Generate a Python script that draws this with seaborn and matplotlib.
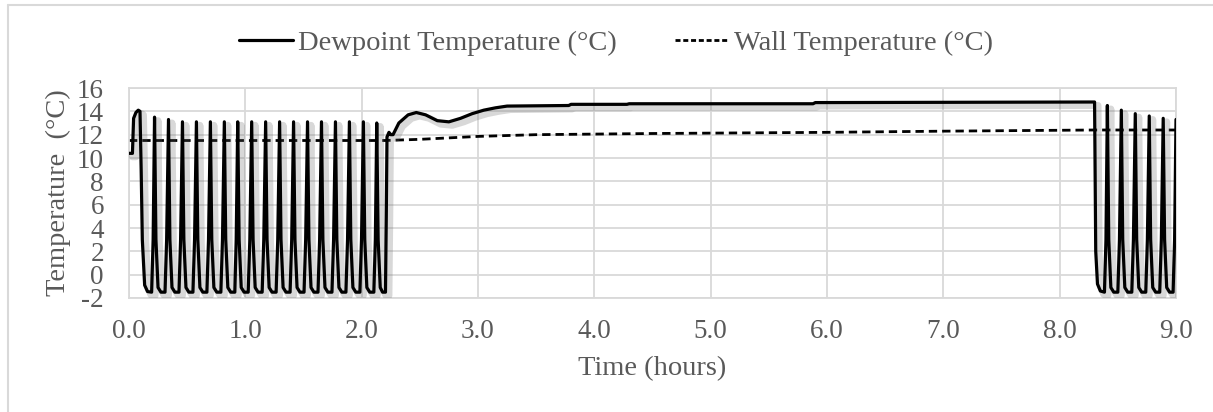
import numpy as np
import pandas as pd
import matplotlib
matplotlib.use('Agg')
import matplotlib.pyplot as plt
import matplotlib.patheffects as pe
from matplotlib.lines import Line2D
import seaborn as sns

# ------------------------------------------------------------
# 数据
# ------------------------------------------------------------
# 露点温度：左段振荡 (0 ~ 2.2 h)
dew_t_left = [
    0.0, 0.03, 0.04, 0.06, 0.08, 0.095, 0.105, 0.115, 0.135, 0.16, 0.195, 0.208,
    0.22, 0.232, 0.25, 0.275, 0.31, 0.324,
    0.34, 0.352, 0.37, 0.395, 0.43, 0.444,
    0.46, 0.472, 0.49, 0.515, 0.55, 0.564,
    0.58, 0.592, 0.61, 0.635, 0.67, 0.684,
    0.70, 0.712, 0.73, 0.755, 0.79, 0.804,
    0.82, 0.832, 0.85, 0.875, 0.91, 0.922,
    0.935, 0.947, 0.965, 0.99, 1.025, 1.039,
    1.055, 1.067, 1.085, 1.11, 1.145, 1.159,
    1.175, 1.187, 1.205, 1.23, 1.265, 1.279,
    1.295, 1.307, 1.325, 1.35, 1.385, 1.399,
    1.415, 1.427, 1.445, 1.47, 1.505, 1.519,
    1.535, 1.547, 1.565, 1.59, 1.625, 1.639,
    1.655, 1.667, 1.685, 1.71, 1.745, 1.759,
    1.775, 1.787, 1.805, 1.83, 1.865, 1.879,
    1.895, 1.907, 1.925, 1.95, 1.985, 1.999,
    2.015, 2.027, 2.045, 2.07, 2.105, 2.118,
    2.13, 2.142, 2.16, 2.18, 2.205, 2.212,
]
dew_v_left = [
    10.4, 10.4, 13.4, 13.9, 14.1, 14.0, 9.0, 3.0, -0.9, -1.45, -1.5, 3.0,
    13.5, 3.0, -1.1, -1.5, -1.5, 3.0,
    13.3, 3.0, -1.1, -1.5, -1.5, 3.0,
    13.1, 3.0, -1.1, -1.5, -1.5, 3.0,
    13.1, 3.0, -1.1, -1.5, -1.5, 3.0,
    13.1, 3.0, -1.1, -1.5, -1.5, 3.0,
    13.1, 3.0, -1.1, -1.5, -1.5, 3.0,
    13.1, 3.0, -1.1, -1.5, -1.5, 3.0,
    13.1, 3.0, -1.1, -1.5, -1.5, 3.0,
    13.1, 3.0, -1.1, -1.5, -1.5, 3.0,
    13.1, 3.0, -1.1, -1.5, -1.5, 3.0,
    13.1, 3.0, -1.1, -1.5, -1.5, 3.0,
    13.1, 3.0, -1.1, -1.5, -1.5, 3.0,
    13.1, 3.0, -1.1, -1.5, -1.5, 3.0,
    13.1, 3.0, -1.1, -1.5, -1.5, 3.0,
    13.1, 3.0, -1.1, -1.5, -1.5, 3.0,
    13.1, 3.0, -1.1, -1.5, -1.5, 3.0,
    13.0, 3.0, -1.1, -1.5, -1.5, 5.0,
]

# 露点温度：中段平稳 (2.2 ~ 8.3 h)
dew_t_mid = [2.218, 2.235, 2.25, 2.27, 2.32, 2.40, 2.47, 2.55, 2.65, 2.75,
             2.85, 2.95, 3.05, 3.15, 3.25, 3.78, 3.80, 4.28, 4.30, 5.88,
             5.90, 8.30]
dew_v_mid = [11.8, 12.2, 12.0, 12.0, 13.0, 13.7, 13.9, 13.7, 13.2, 13.1,
             13.4, 13.8, 14.1, 14.3, 14.45, 14.5, 14.6, 14.6, 14.65, 14.65,
             14.75, 14.8]

# 露点温度：右段振荡 (8.3 ~ 9.0 h)
dew_t_right = [
    8.305, 8.31, 8.325, 8.35, 8.385, 8.398,
    8.41, 8.422, 8.44, 8.465, 8.50, 8.514,
    8.53, 8.542, 8.56, 8.585, 8.62, 8.634,
    8.65, 8.662, 8.68, 8.705, 8.74, 8.754,
    8.77, 8.782, 8.80, 8.825, 8.86, 8.874,
    8.89, 8.902, 8.92, 8.945, 8.975, 8.988,
    9.0,
]
dew_v_right = [
    8.0, 2.0, -0.8, -1.4, -1.5, 3.0,
    14.5, 3.0, -1.1, -1.5, -1.5, 3.0,
    14.1, 3.0, -1.1, -1.5, -1.5, 3.0,
    13.8, 3.0, -1.1, -1.5, -1.5, 3.0,
    13.6, 3.0, -1.1, -1.5, -1.5, 3.0,
    13.4, 3.0, -1.1, -1.5, -1.5, 3.0,
    13.3,
]

# 壁面温度
wall_t = [0.0, 2.2, 2.5, 3.0, 3.5, 4.5, 6.0, 7.0, 8.3, 9.0]
wall_v = [11.5, 11.5, 11.6, 11.85, 12.0, 12.1, 12.2, 12.3, 12.4, 12.4]

x_ticks = [0, 1, 2, 3, 4, 5, 6, 7, 8, 9]
y_ticks = [-2, 0, 2, 4, 6, 8, 10, 12, 14, 16]

dew_df = pd.DataFrame({'t': dew_t_left + dew_t_mid + dew_t_right,
                       'v': dew_v_left + dew_v_mid + dew_v_right})
wall_df = pd.DataFrame({'t': wall_t, 'v': wall_v})

# ------------------------------------------------------------
# 绘图
# ------------------------------------------------------------
sns.set_style('white')
plt.rcParams['font.family'] = ['Liberation Serif', 'DejaVu Serif']
plt.rcParams['axes.unicode_minus'] = False
TXT = '#595959'
GRID = '#d9d9d9'

fig = plt.figure(figsize=(12.13, 4.12), dpi=100)
ax = fig.add_axes([0.1063, 0.2767, 0.8632, 0.5097])

shadow = [pe.SimpleLineShadow(offset=(2.5, -2.5), shadow_color='0.4', alpha=0.25, linewidth=5),
          pe.Normal()]

sns.lineplot(data=wall_df, x='t', y='v', sort=False, estimator=None, ax=ax,
             color='black', lw=2.0, dashes=False, label='Wall Temperature (°C)')
ax.lines[-1].set_dashes((3, 1.8))
sns.lineplot(data=dew_df, x='t', y='v', sort=False, estimator=None, ax=ax,
             color='black', lw=2.3, label='Dewpoint Temperature (°C)')
ax.lines[-1].set_path_effects(shadow)
ax.lines[-1].set_zorder(3)

ax.set_xlim(0, 9)
ax.set_ylim(-2, 16)
ax.set_xticks(x_ticks)
ax.set_xticklabels([f'{v:.1f}' for v in x_ticks])
ax.set_yticks(y_ticks)
ax.grid(True, color=GRID, lw=1.3)
ax.set_axisbelow(True)
for s in ax.spines.values():
    s.set_color(GRID)
    s.set_linewidth(1.3)
ax.tick_params(axis='both', length=0, labelsize=19.5, colors=TXT)
ax.tick_params(axis='y', pad=18)
ax.tick_params(axis='x', pad=15)
ax.set_xlabel('Time (hours)', fontsize=20.5, color=TXT, labelpad=9)
ax.set_ylabel('Temperature  (°C)', fontsize=20.5, color=TXT, labelpad=4)

# 图例
ax.get_legend().remove()
h_dew = Line2D([], [], color='black', lw=2.3)
h_wall = Line2D([], [], color='black', lw=2.0, dashes=(1.8, 1.0))
leg = fig.legend([h_dew, h_wall], ['Dewpoint Temperature (°C)', 'Wall Temperature (°C)'],
                 loc='center', bbox_to_anchor=(0.508, 0.895), ncol=2, frameon=False,
                 fontsize=20.5, handlelength=1.9, handletextpad=0.18, columnspacing=2.05)
for t in leg.get_texts():
    t.set_color(TXT)

# 图表外框
fig.add_artist(Line2D([8 / 1213, 8 / 1213], [0, 1 - 5 / 412], transform=fig.transFigure,
                      color=GRID, lw=1.5))
fig.add_artist(Line2D([8 / 1213, 1], [1 - 5 / 412, 1 - 5 / 412], transform=fig.transFigure,
                      color=GRID, lw=1.5))

fig.savefig('out.png', dpi=100)
